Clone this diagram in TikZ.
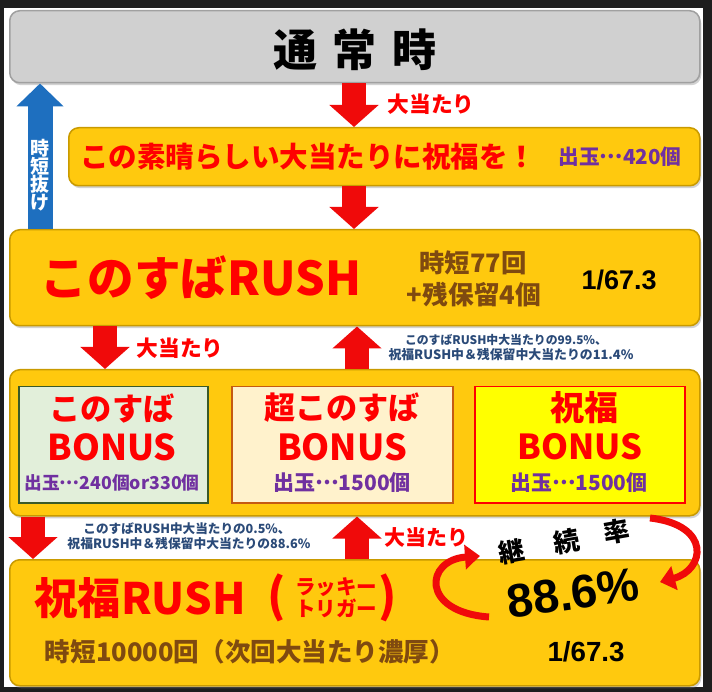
\documentclass[tikz,border=0pt]{standalone}
\usepackage{fontspec}
\usepackage{graphicx}
\setmainfont{Noto Sans CJK JP}
\newfontfamily\arial{Liberation Sans}
\usetikzlibrary{arrows.meta,shadows}
\definecolor{framec}{HTML}{1E1E1E}
\definecolor{grayfill}{HTML}{D0D0D0}
\definecolor{grayrim}{HTML}{A0A0A0}
\definecolor{yfill}{HTML}{FFC90E}
\definecolor{yrim}{HTML}{C99A00}
\definecolor{tred}{HTML}{FF0000}
\definecolor{ared}{HTML}{F00A0A}
\definecolor{tpurple}{HTML}{7030A0}
\definecolor{tbrown}{HTML}{7F4A10}
\definecolor{tnavy}{HTML}{2A4A78}
\definecolor{bblue}{HTML}{1E6FBF}
\definecolor{gonefill}{HTML}{E2EFDA}
\definecolor{gonerim}{HTML}{3A5A28}
\definecolor{ctwofill}{HTML}{FFF2CC}
\definecolor{ctworim}{HTML}{C55A11}
\definecolor{ythreefill}{HTML}{FFFF00}
\newcommand{\fitw}[2]{\resizebox{#1}{!}{#2}}
\newcommand{\fs}[1]{\fontsize{#1}{#1}\selectfont}
\newcommand{\mdots}{\raisebox{0.3em}{…}}
\begin{document}
\begin{tikzpicture}[x=1pt,y=-1pt,
  boxbase/.style={rounded corners=10pt, line width=1.5pt, anchor=north west, inner sep=0pt,
     drop shadow={opacity=0.35, shadow xshift=1.5pt, shadow yshift=-2.5pt}},
  ybox/.style={boxbase, draw=yrim, fill=yfill},
  gbox/.style={boxbase, draw=grayrim, fill=grayfill},
  ibox/.style={line width=1.5pt, anchor=north west, inner sep=0pt},
  txt/.style={inner sep=0pt, font=\bfseries},
  redtxt/.style={txt, text=tred},
  brtxt/.style={txt, text=tbrown},
  putxt/.style={txt, text=tpurple},
  nvtxt/.style={txt, text=tnavy},
  redarrow/.style={draw=ared, line width=24pt, -{Triangle[length=22pt,width=48pt]}},
  bluearrow/.style={draw=bblue, line width=25pt, -{Triangle[length=23pt,width=46pt]}},
  curvearrow/.style={draw=ared, line width=7pt, -{Triangle[length=15pt,width=24pt]}},
]
% frame and background
\fill[framec] (0,0) rectangle (712,692);
\fill[white] (4,8) rectangle (703,687);
\useasboundingbox (0,0) rectangle (712,692);

% boxes
\node[gbox, minimum width=690pt, minimum height=72pt] (normal) at (9,10) {};
\node[ybox, minimum width=631pt, minimum height=58pt] (jackpot) at (68,127) {};
\node[ybox, minimum width=690pt, minimum height=96pt] (rush) at (9,229) {};
\node[ybox, minimum width=690pt, minimum height=146pt] (bonus) at (9,369) {};
\node[ibox, draw=gonerim, fill=gonefill, minimum width=189pt, minimum height=116pt] (bone) at (18,386) {};
\node[ibox, draw=ctworim, fill=ctwofill, minimum width=221pt, minimum height=116pt] (btwo) at (231,386) {};
\node[ibox, draw=red, fill=ythreefill, minimum width=210pt, minimum height=116pt] (bthree) at (474,386) {};
\node[ybox, minimum width=690pt, minimum height=126pt] (shuku) at (9,559) {};

% arrows
\draw[redarrow] (354,0 |- normal.south) -- (354,0 |- jackpot.north);
\draw[redarrow] (354,0 |- jackpot.south) -- (354,0 |- rush.north);
\draw[redarrow] (105,0 |- rush.south) -- (105,0 |- bonus.north);
\draw[redarrow] (357,0 |- bonus.north) -- (357,0 |- rush.south);
\draw[redarrow] (33,0 |- bonus.south) -- (33,0 |- shuku.north);
\draw[redarrow] (357,0 |- shuku.north) -- (357,0 |- bonus.south);
\draw[bluearrow] (40,0 |- rush.north) -- (40,0 |- normal.south);

% texts
\node[txt] (tnormal) at (355,50) {\fitw{163pt}{\fs{44}通\hspace{0.35em}常\hspace{0.35em}時}};
\node[redtxt] (lbla) at (431,104) {\fitw{87pt}{\fs{20}大当たり}};
\node[redtxt] (tjack) at (308,157) {\fitw{456pt}{\fs{30}この素晴らしい大当たりに祝福を！}};
\node[putxt] (tjackout) at (620,157) {\fitw{123pt}{\fs{19}出玉\mdots420個}};
\node[redtxt] (trush) at (201,278) {\fitw{320pt}{\fs{47}このすばRUSH}};
\node[brtxt] (trusha) at (473,263) {\fitw{107pt}{\fs{24}時短77回}};
\node[brtxt] (trushb) at (474,295) {\fitw{134pt}{\fs{24}+残保留4個}};
\node[txt] (trushp) at (619,280) {\fitw{75pt}{\arial\bfseries\fs{23}1/67.3}};
\node[redtxt] (lblb) at (180,348) {\fitw{87pt}{\fs{20}大当たり}};
\node[nvtxt] (nvaa) at (506,340) {\fitw{202pt}{\fs{12}このすばRUSH中大当たりの99.5\%、}};
\node[nvtxt] (nvab) at (511,355) {\fitw{245pt}{\fs{12}祝福RUSH中＆残保留中大当たりの11.4\%}};

\node[redtxt] (bonea) at (112,408) {\fitw{125pt}{\fs{30}このすば}};
\node[redtxt] (boneb) at (112,447) {\fitw{129pt}{\fs{36}BONUS}};
\node[putxt] (bonec) at (112,483) {\fitw{175pt}{\fs{18}出玉\mdots240個or330個}};
\node[redtxt] (btwoa) at (342,408) {\fitw{156pt}{\fs{30}超このすば}};
\node[redtxt] (btwob) at (342,447) {\fitw{130pt}{\fs{36}BONUS}};
\node[putxt] (btwoc) at (342,483) {\fitw{138pt}{\fs{21}出玉\mdots1500個}};
\node[redtxt] (bthreea) at (584,408) {\fitw{68pt}{\fs{30}祝福}};
\node[redtxt] (bthreeb) at (580,447) {\fitw{125pt}{\fs{36}BONUS}};
\node[putxt] (bthreec) at (579,483) {\fitw{137pt}{\fs{21}出玉\mdots1500個}};

\node[nvtxt] (nvba) at (187,529) {\fitw{207pt}{\fs{12}このすばRUSH中大当たりの0.5\%、}};
\node[nvtxt] (nvbb) at (189,544) {\fitw{243pt}{\fs{12}祝福RUSH中＆残保留中大当たりの88.6\%}};
\node[redtxt] (lblc) at (426,538) {\fitw{84pt}{\fs{20}大当たり}};

\node[redtxt] (tshuku) at (140,598) {\fitw{211pt}{\fs{42}祝福RUSH}};
\node[redtxt] (parl) at (277,598) {\fs{46}(};
\node[redtxt] (parr) at (388,598) {\fs{46})};
\node[redtxt] (lucky) at (336,587) {\fitw{82pt}{\fs{19}ラッキー}};
\node[redtxt] (trig) at (336,608) {\fitw{82pt}{\fs{19}トリガー}};
\node[brtxt] (tshukua) at (250,652) {\fitw{410pt}{\fs{25}時短10000回（次回大当たり濃厚）}};
\node[txt] (tshukup) at (586,652) {\fitw{77pt}{\arial\bfseries\fs{23}1/67.3}};

% continuation rate
\node[txt, rotate=10] (kei) at (512,552) {\fs{26}継};
\node[txt, rotate=10] (zoku) at (567,542) {\fs{26}続};
\node[txt, rotate=10] (ritsu) at (617,532) {\fs{26}率};
\node[txt, rotate=8] (rate) at (573,593) {\arial\bfseries\fs{47}88.6\%};

\coordinate (cla) at (489,617);
\coordinate (clb) at (480,556);
\coordinate (cra) at (650,518);
\coordinate (crb) at (660,582);
\draw[curvearrow] (cla) .. controls (420,612) and (425,560) .. (clb);
\draw[curvearrow] (cra) .. controls (712,525) and (705,570) .. (crb);

% blue arrow label
\node[inner sep=0pt, text=white, font=\bfseries\fs{19}, align=center] (tback) at (40,175)
  {時\\[-1pt]短\\[-1pt]抜\\[-1pt]け};
\end{tikzpicture}
\end{document}
